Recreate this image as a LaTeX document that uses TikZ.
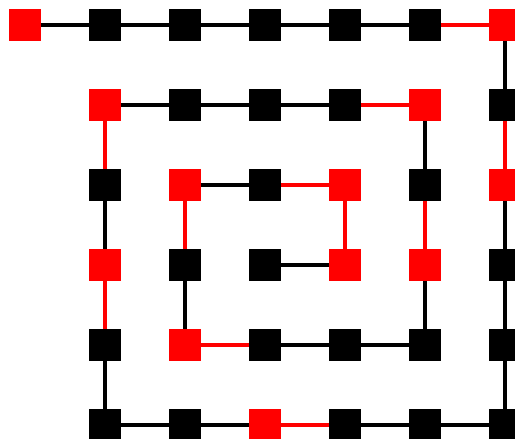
\documentclass[tikz,border=0pt]{standalone}
\usetikzlibrary{backgrounds}
\begin{document}
\begin{tikzpicture}[x=1pt,y=-1pt,
  sq/.style={rectangle,minimum size=32pt,inner sep=0pt,outer sep=0pt,fill=#1},
  sq/.default=black,
  bl/.style={line width=3.6pt,black},
  rl/.style={line width=3.6pt,red}]
\useasboundingbox (0,0) rectangle (515,439);
% nodes: name n<col><row>
\foreach \c/\r/\col in {
  0/0/red,1/0/black,2/0/black,3/0/black,4/0/black,5/0/black,6/0/red,
  6/1/black,6/2/red,6/3/black,6/4/black,6/5/black,
  5/5/black,4/5/black,3/5/red,2/5/black,1/5/black,
  1/4/black,1/3/red,1/2/black,1/1/red,
  2/1/black,3/1/black,4/1/black,5/1/red,
  5/2/black,5/3/red,5/4/black,
  4/4/black,3/4/black,2/4/red,
  2/3/black,2/2/red,3/2/black,4/2/red,4/3/red,3/3/black}
  \node[sq=\col] (n\c\r) at (25+80*\c,25+80*\r) {};
% connectors
\begin{scope}[on background layer]
\foreach \a/\b/\s in {
  n00/n10/bl,n10/n20/bl,n20/n30/bl,n30/n40/bl,n40/n50/bl,n50/n60/rl,
  n60/n61/bl,n61/n62/rl,n62/n63/bl,n63/n64/bl,n64/n65/bl,
  n65/n55/bl,n55/n45/bl,n45/n35/rl,n35/n25/bl,n25/n15/bl,
  n15/n14/bl,n14/n13/rl,n13/n12/bl,n12/n11/rl,
  n11/n21/bl,n21/n31/bl,n31/n41/bl,n41/n51/rl,
  n51/n52/bl,n52/n53/rl,n53/n54/bl,
  n54/n44/bl,n44/n34/bl,n34/n24/rl,
  n24/n23/bl,n23/n22/rl,n22/n32/bl,n32/n42/rl,n42/n43/rl,n43/n33/bl}
  \draw[\s] (\a) -- (\b);
\end{scope}
\end{tikzpicture}
\end{document}
